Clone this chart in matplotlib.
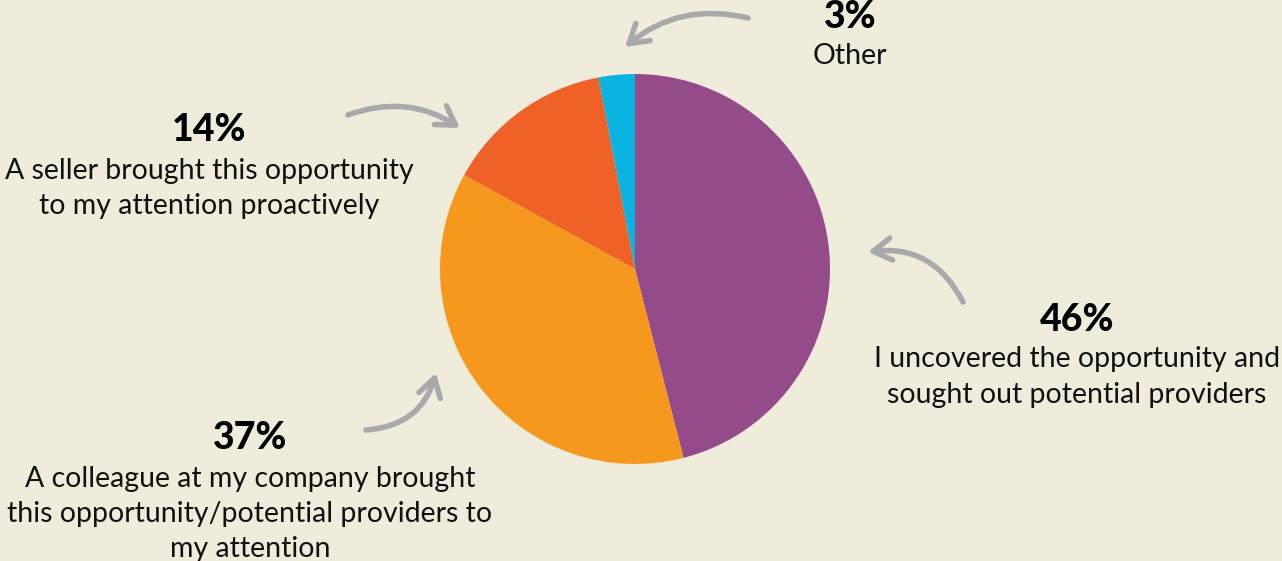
import matplotlib.pyplot as plt
from matplotlib.patches import FancyArrowPatch

# ----- Data -----
labels = [
    'I uncovered the opportunity and\nsought out potential providers',
    'A colleague at my company brought\nthis opportunity/potential providers to\nmy attention',
    'A seller brought this opportunity\nto my attention proactively',
    'Other',
]
shares = [46, 37, 14, 3]
colors = ['#934B89', '#F7981E', '#F06128', '#0BB3E0']

BG = '#F0ECDC'
GREY = '#A9A9AC'
W, H = 1282, 561

fig = plt.figure(figsize=(W / 100, H / 100), dpi=100, facecolor=BG)
ax = fig.add_axes([0, 0, 1, 1])
ax.set_facecolor(BG)

# pie drawn in pixel units so everything else can be placed the same way
ax.pie(shares, colors=colors, startangle=90, counterclock=False,
       center=(635, H - 269), radius=195, wedgeprops=dict(linewidth=0))
ax.set_xlim(0, W)
ax.set_ylim(0, H)
ax.set_aspect('equal')
ax.axis('off')

# (label x, percent y, first text line y) in pixels from the top
spots = [(1077, 320, 357), (250, 438, 476), (209, 130, 168), (850, 17, 53)]
for lab, val, (x, py, ty) in zip(labels, shares, spots):
    ax.text(x, H - py, f'{val}%', ha='center', va='center',
            fontsize=27, fontweight='black', family='Lato', color='black')
    for i, line in enumerate(lab.split('\n')):
        ax.text(x, H - ty - 35.5 * i, line, ha='center',
                va='center_baseline', fontsize=20.5, family='Lato',
                color='#111111')

# hand-drawn style pointer arrows: (tail, head, curvature)
arrows = [
    ((748, 18), (625, 47), 0.25),
    ((348, 115), (460, 128), -0.25),
    ((963, 302), (868, 252), 0.35),
    ((366, 430), (436, 373), 0.35),
]
for (tx, ty), (hx, hy), rad in arrows:
    ax.add_patch(FancyArrowPatch(
        (tx, H - ty), (hx, H - hy), connectionstyle=f'arc3,rad={rad}',
        arrowstyle='->,head_length=13,head_width=8', color=GREY, lw=4,
        capstyle='round', joinstyle='round', shrinkA=0, shrinkB=0))

fig.savefig('out.png', dpi=100, facecolor=BG)
